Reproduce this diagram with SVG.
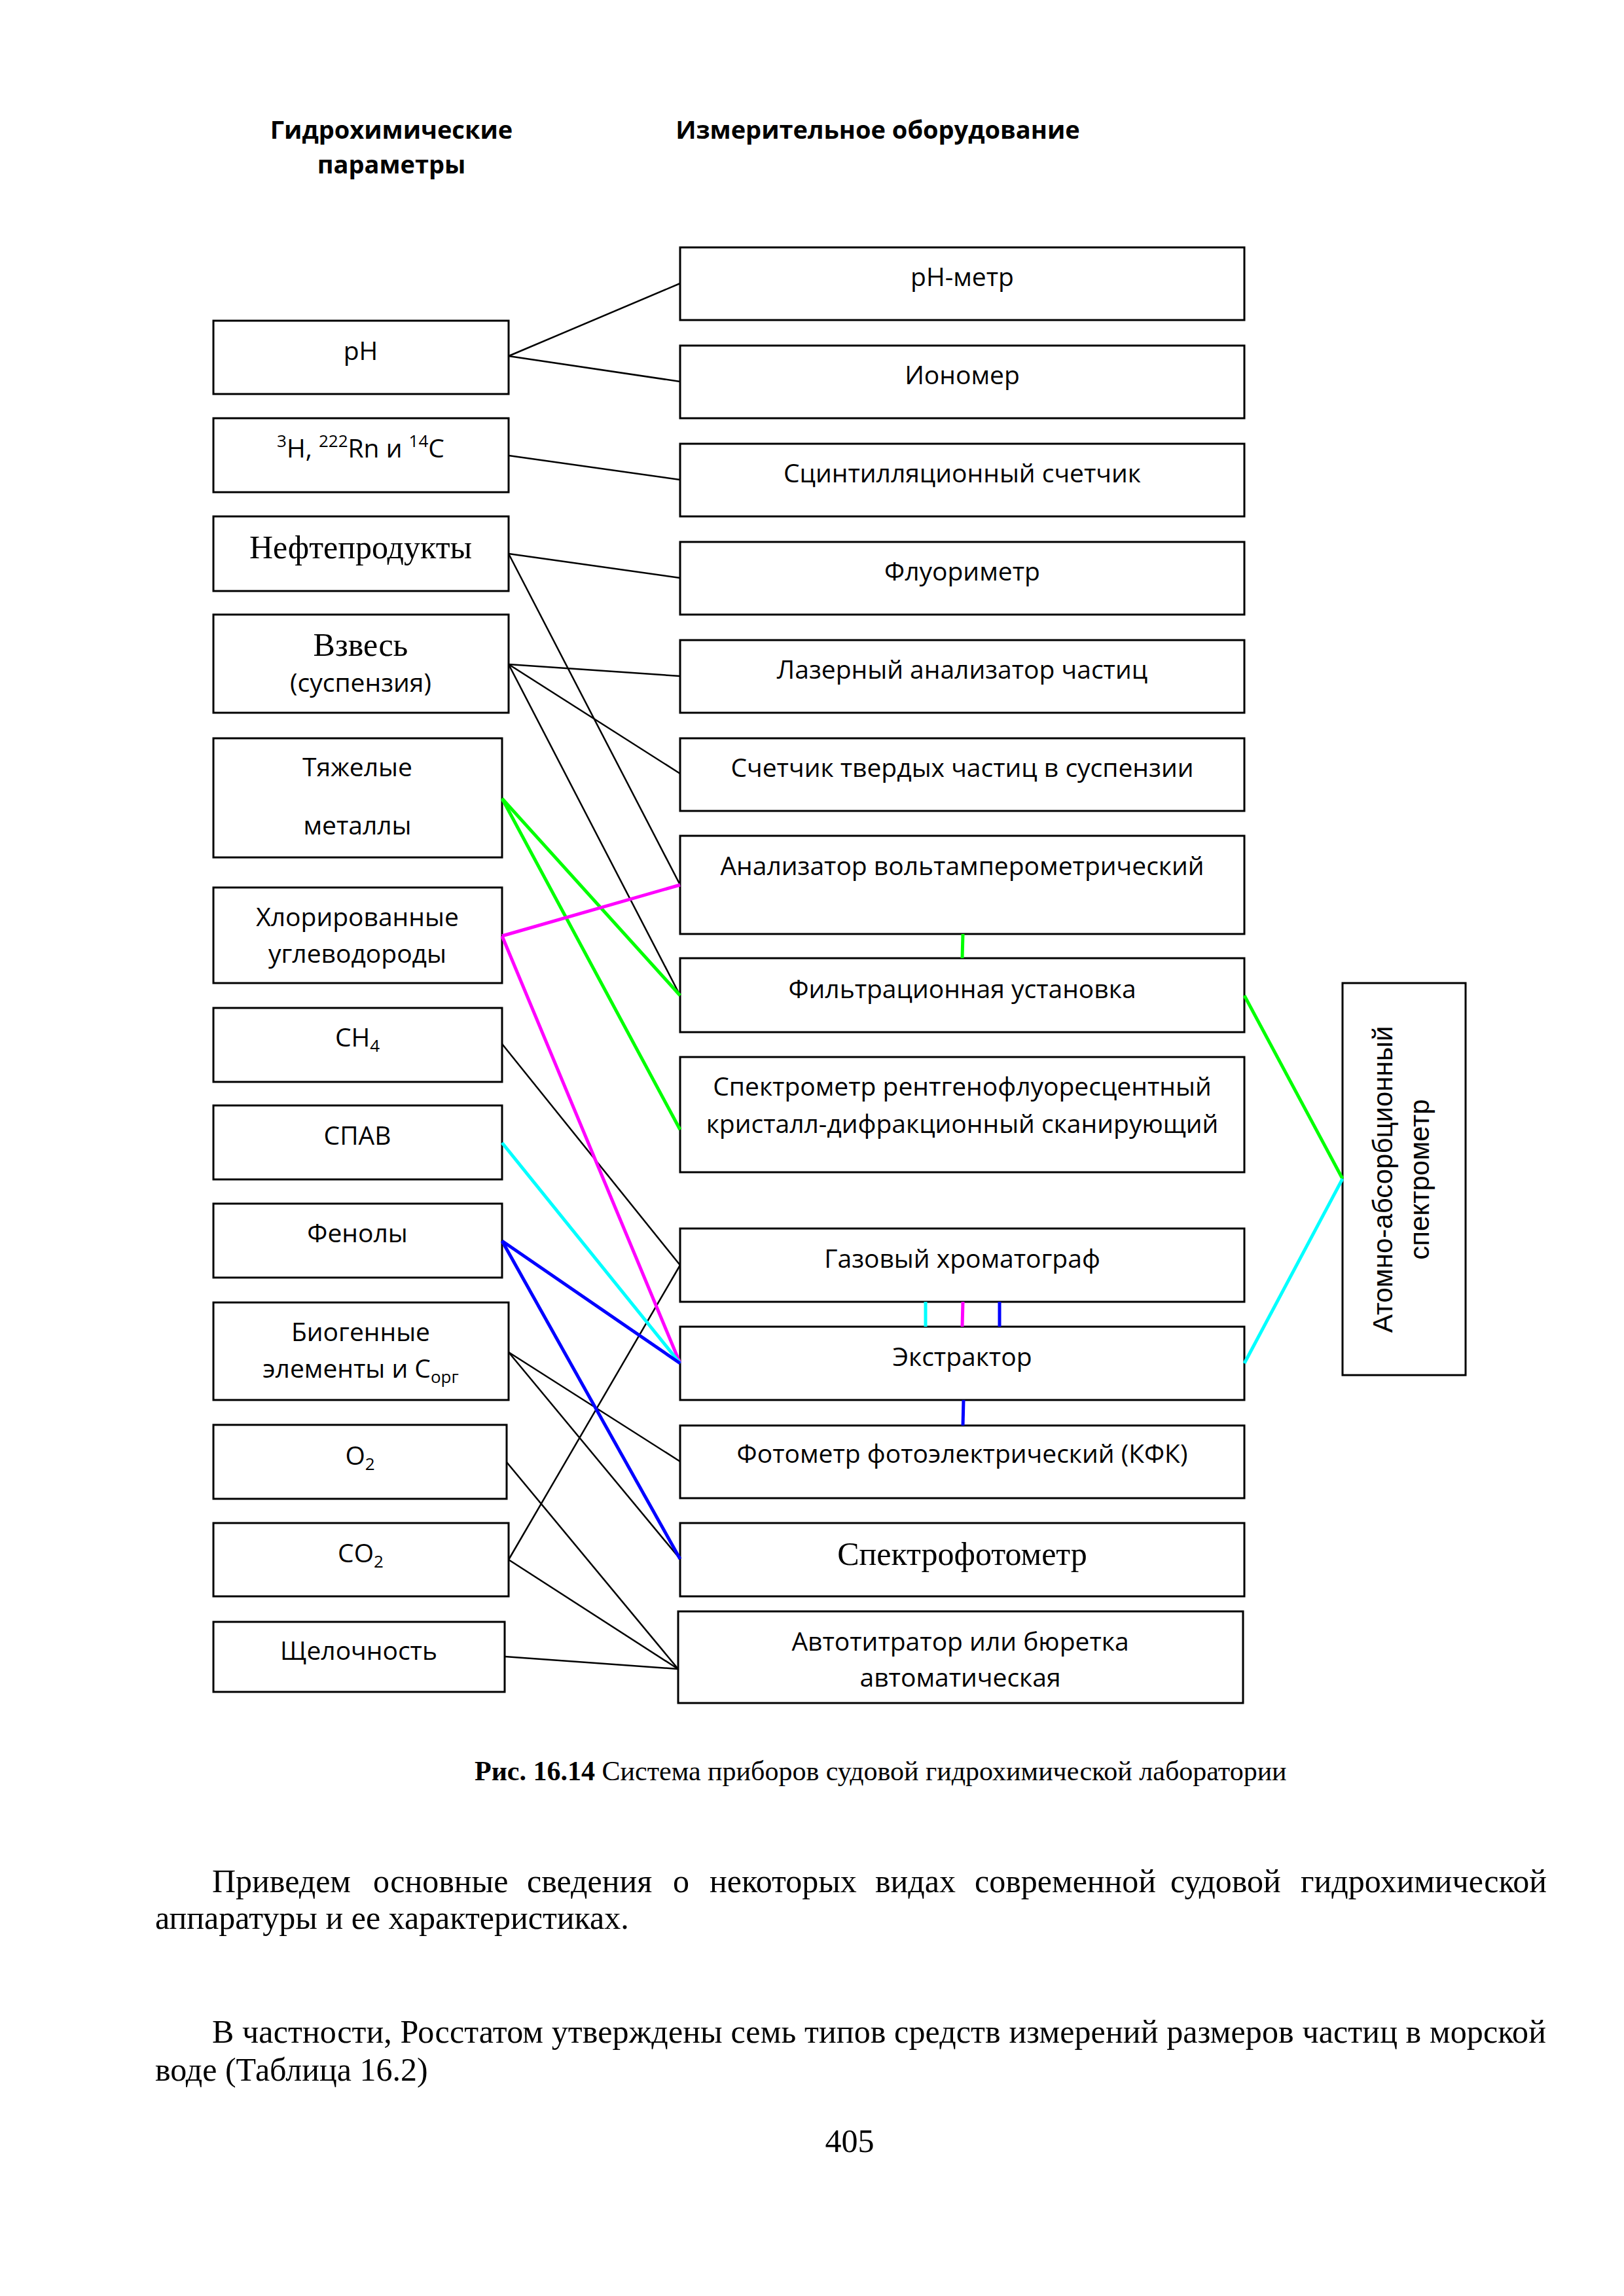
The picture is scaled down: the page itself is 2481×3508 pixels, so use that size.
<svg xmlns="http://www.w3.org/2000/svg" width="2481" height="3508" viewBox="0 0 2481 3508">
<style>
.box{fill:#fff;stroke:#000;stroke-width:3}
.t{font-family:"Open Sans","Noto Sans",sans-serif;font-size:39px;fill:#000;text-anchor:middle}
.s{font-family:"Liberation Serif","Times New Roman",serif;font-size:50px;fill:#000;text-anchor:middle}
.h{font-family:"Open Sans","Noto Sans",sans-serif;font-size:38px;font-weight:bold;fill:#000;text-anchor:middle}
.r{font-family:"Liberation Sans",Arial,sans-serif;font-size:42px;fill:#000;text-anchor:middle}
.p{font-family:"Liberation Serif","Times New Roman",serif;font-size:50px;fill:#000}
.cap{font-family:"Liberation Serif","Times New Roman",serif;font-size:42px;fill:#000}
.k{stroke:#000;stroke-width:2.5;fill:none}
.g{stroke:#00ff00;stroke-width:5;fill:none}
.m{stroke:#ff00ff;stroke-width:5;fill:none}
.c{stroke:#00ffff;stroke-width:5;fill:none}
.b{stroke:#0000ff;stroke-width:5;fill:none}
</style>
<rect width="2481" height="3508" fill="#fff"/>
<g id="headers">
<text class="h" x="598" y="212">Гидрохимические</text>
<text class="h" x="598" y="265">параметры</text>
<text class="h" x="1341" y="212">Измерительное оборудование</text>
</g>
<g id="params">
<g id="p-ph"><rect class="box" x="326" y="490" width="451" height="112"/><text class="t" x="551" y="550">pH</text></g>
<g id="p-iso"><rect class="box" x="326" y="639" width="451" height="113"/><text class="t" x="551" y="699"><tspan font-size="26" dy="-16">3</tspan><tspan dy="16">H, </tspan><tspan font-size="26" dy="-16">222</tspan><tspan dy="16">Rn и </tspan><tspan font-size="26" dy="-16">14</tspan><tspan dy="16">C</tspan></text></g>
<g id="p-oil"><rect class="box" x="326" y="789" width="451" height="114"/><text class="s" x="551" y="853">Нефтепродукты</text></g>
<g id="p-susp"><rect class="box" x="326" y="939" width="451" height="150"/><text class="s" x="551" y="1002">Взвесь</text><text class="t" x="551" y="1057">(суспензия)</text></g>
<g id="p-metals"><rect class="box" x="326" y="1128" width="441" height="182"/><text class="t" x="546" y="1186">Тяжелые</text><text class="t" x="546" y="1275">металлы</text></g>
<g id="p-chlor"><rect class="box" x="326" y="1356" width="441" height="146"/><text class="t" x="546" y="1415">Хлорированные</text><text class="t" x="546" y="1471">углеводороды</text></g>
<g id="p-ch4"><rect class="box" x="326" y="1540" width="441" height="113"/><text class="t" x="546" y="1599">CH<tspan font-size="26" dy="8">4</tspan></text></g>
<g id="p-spav"><rect class="box" x="326" y="1689" width="441" height="113"/><text class="t" x="546" y="1749">СПАВ</text></g>
<g id="p-phen"><rect class="box" x="326" y="1839" width="441" height="113"/><text class="t" x="546" y="1898">Фенолы</text></g>
<g id="p-bio"><rect class="box" x="326" y="1990" width="451" height="149"/><text class="t" x="551" y="2049">Биогенные</text><text class="t" x="551" y="2105">элементы и С<tspan font-size="26" dy="8">орг</tspan></text></g>
<g id="p-o2"><rect class="box" x="326" y="2177" width="448" height="113"/><text class="t" x="550" y="2238">O<tspan font-size="26" dy="8">2</tspan></text></g>
<g id="p-co2"><rect class="box" x="326" y="2327" width="451" height="112"/><text class="t" x="551" y="2387">CO<tspan font-size="26" dy="8">2</tspan></text></g>
<g id="p-alk"><rect class="box" x="326" y="2478" width="445" height="107"/><text class="t" x="548" y="2536">Щелочность</text></g>
</g>
<g id="devices">
<g id="d-phm"><rect class="box" x="1039" y="378" width="862" height="111"/><text class="t" x="1470" y="437">pH-метр</text></g>
<g id="d-ion"><rect class="box" x="1039" y="528" width="862" height="111"/><text class="t" x="1470" y="587">Иономер</text></g>
<g id="d-scint"><rect class="box" x="1039" y="678" width="862" height="111"/><text class="t" x="1470" y="737">Сцинтилляционный счетчик</text></g>
<g id="d-fluor"><rect class="box" x="1039" y="828" width="862" height="111"/><text class="t" x="1470" y="887">Флуориметр</text></g>
<g id="d-laser"><rect class="box" x="1039" y="978" width="862" height="111"/><text class="t" x="1470" y="1037">Лазерный анализатор частиц</text></g>
<g id="d-count"><rect class="box" x="1039" y="1128" width="862" height="111"/><text class="t" x="1470" y="1187">Счетчик твердых частиц в суспензии</text></g>
<g id="d-volt"><rect class="box" x="1039" y="1277" width="862" height="150"/><text class="t" x="1470" y="1337">Анализатор вольтамперометрический</text></g>
<g id="d-filt"><rect class="box" x="1039" y="1464" width="862" height="113"/><text class="t" x="1470" y="1525">Фильтрационная установка</text></g>
<g id="d-xrf"><rect class="box" x="1039" y="1615" width="862" height="176"/><text class="t" x="1470" y="1674">Спектрометр рентгенофлуоресцентный</text><text class="t" x="1470" y="1731">кристалл-дифракционный сканирующий</text></g>
<g id="d-gc"><rect class="box" x="1039" y="1877" width="862" height="112"/><text class="t" x="1470" y="1937">Газовый хроматограф</text></g>
<g id="d-extr"><rect class="box" x="1039" y="2027" width="862" height="112"/><text class="t" x="1470" y="2087">Экстрактор</text></g>
<g id="d-kfk"><rect class="box" x="1039" y="2178" width="862" height="111"/><text class="t" x="1470" y="2235">Фотометр фотоэлектрический (КФК)</text></g>
<g id="d-spf"><rect class="box" x="1039" y="2327" width="862" height="112"/><text class="s" x="1470" y="2391">Спектрофотометр</text></g>
<g id="d-titr"><rect class="box" x="1036" y="2462" width="863" height="140"/><text class="t" x="1467" y="2522">Автотитратор или бюретка</text><text class="t" x="1467" y="2577">автоматическая</text></g>
<g id="d-aas"><rect class="box" x="2051" y="1502" width="188" height="599"/><g transform="translate(2127,1802) rotate(-90)"><text class="r" x="0" y="0">Атомно-абсорбционный</text><text class="r" x="0" y="56">спектрометр</text></g></g>
</g>
<g id="connectors">
<line class="k" x1="777" y1="544" x2="1039" y2="433"/>
<line class="k" x1="777" y1="544" x2="1039" y2="583"/>
<line class="k" x1="777" y1="696" x2="1039" y2="733"/>
<line class="k" x1="777" y1="846" x2="1039" y2="883"/>
<line class="k" x1="777" y1="846" x2="1039" y2="1352"/>
<line class="k" x1="777" y1="1015" x2="1039" y2="1033"/>
<line class="k" x1="777" y1="1015" x2="1039" y2="1182"/>
<line class="k" x1="777" y1="1015" x2="1039" y2="1521"/>
<line class="k" x1="767" y1="1595" x2="1039" y2="1933"/>
<line class="k" x1="777" y1="2066" x2="1039" y2="2233"/>
<line class="k" x1="777" y1="2066" x2="1039" y2="2382"/>
<line class="k" x1="774" y1="2234" x2="1036" y2="2550"/>
<line class="k" x1="777" y1="2383" x2="1039" y2="1933"/>
<line class="k" x1="777" y1="2383" x2="1036" y2="2550"/>
<line class="k" x1="771" y1="2531" x2="1036" y2="2550"/>
<line class="g" x1="767" y1="1220" x2="1039" y2="1521"/>
<line class="g" x1="767" y1="1220" x2="1039" y2="1726"/>
<line class="g" x1="1471" y1="1427" x2="1470" y2="1464"/>
<line class="g" x1="1901" y1="1521" x2="2051" y2="1801"/>
<line class="m" x1="767" y1="1430" x2="1039" y2="1352"/>
<line class="m" x1="767" y1="1430" x2="1039" y2="2083"/>
<line class="m" x1="1471" y1="1989" x2="1470" y2="2027"/>
<line class="c" x1="767" y1="1746" x2="1039" y2="2083"/>
<line class="c" x1="1414" y1="1989" x2="1414" y2="2027"/>
<line class="c" x1="1901" y1="2083" x2="2051" y2="1801"/>
<line class="b" x1="767" y1="1896" x2="1039" y2="2083" stroke-width="6"/>
<line class="b" x1="767" y1="1896" x2="1039" y2="2382"/>
<line class="b" x1="1527" y1="1989" x2="1527" y2="2027"/>
<line class="b" x1="1472" y1="2139" x2="1471" y2="2178"/>
</g>
<g id="caption">
<text class="cap" x="725" y="2720"><tspan font-weight="bold">Рис. 16.14</tspan> Система приборов судовой гидрохимической лаборатории</text>
</g>
<g id="body">
<text class="p"><tspan x="324" y="2891">Приведем</tspan><tspan x="570" y="2891">основные</tspan><tspan x="805" y="2891">сведения</tspan><tspan x="1028" y="2891">о</tspan><tspan x="1084" y="2891">некоторых</tspan><tspan x="1337" y="2891">видах</tspan><tspan x="1489" y="2891">современной</tspan><tspan x="1788" y="2891">судовой</tspan><tspan x="1987" y="2891">гидрохимической</tspan></text>
<text class="p" x="237" y="2947">аппаратуры и ее характеристиках.</text>
<text class="p" x="324" y="3121" textLength="2038" lengthAdjust="spacing">В частности, Росстатом утверждены семь типов средств измерений размеров частиц в морской</text>
<text class="p" x="237" y="3179">воде (Таблица 16.2)</text>
<text class="p" x="1298" y="3288" text-anchor="middle">405</text>
</g>
</svg>
